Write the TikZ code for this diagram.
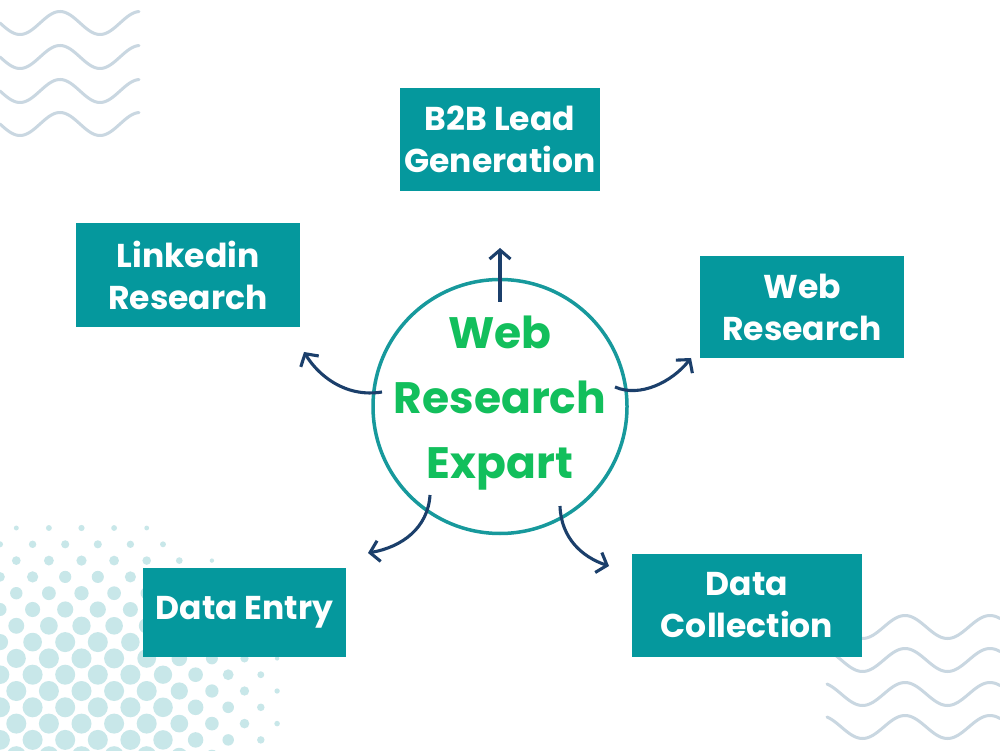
\documentclass[tikz,border=0pt]{standalone}
\usepackage{fontspec}
\setmainfont{Poppins}
\usetikzlibrary{arrows.meta}
\definecolor{boxteal}{HTML}{05989D}
\definecolor{ringteal}{HTML}{17999C}
\definecolor{txtgreen}{HTML}{12BF5C}
\definecolor{navy}{HTML}{1B3F6B}
\definecolor{wavecol}{HTML}{C9D7E1}
\definecolor{dotcol}{HTML}{C8E7E9}
\tikzset{
  box/.style={fill=boxteal, text=white, font=\fontsize{33}{42}\selectfont\bfseries, align=center, inner sep=0pt},
  ring/.style={circle, draw=ringteal, line width=3.5pt, minimum size=254pt, inner sep=0pt},
  conn/.style={draw=navy, line width=3.1pt, -{Straight Barb[length=9pt,width=21pt,line width=3.1pt]}},
  wave/.style={draw=wavecol, line width=3pt, line cap=round},
}
\begin{document}
\begin{tikzpicture}[x=1pt,y=1pt]
\useasboundingbox (0,0) rectangle (1000,750);
\fill[white] (0,0) rectangle (1000,750);
% halftone dots
\foreach \j in {0,...,14} {
  \foreach \i in {0,...,18} {
    \pgfmathsetmacro{\px}{16.3*\i}
    \pgfmathsetmacro{\py}{222-16.3*\j}
    \pgfmathsetmacro{\dd}{veclen(\px-80,\py-30)}
    \pgfmathsetmacro{\rr}{min(10,8.8-0.062*(\dd-100))*mod(\i+\j,2)*(\dd<208)}
    \ifdim \rr pt>0.8pt \fill[dotcol] (\px,\py) circle[radius=\rr]; \fi
  }
}
% waves top-left
\foreach \c in {727,693,659,626} {
  \draw[wave] plot[domain=0:139, samples=70, smooth] (\x, {\c - 11.5*sin(4.5*\x)});
}
% waves bottom-right
\foreach \c in {123,90,56,23} {
  \draw[wave] plot[domain=827:1000, samples=80, smooth] (\x, {\c + 11.5*cos(4.2353*(\x-820))});
}
% boxes
\node[box, minimum width=200pt, minimum height=103pt] (b2b) at (500,610.5) {B2B Lead\\Generation};
\node[box, minimum width=224pt, minimum height=104pt] (lnk) at (188,475) {Linkedin\\Research};
\node[box, minimum width=204pt, minimum height=102pt] (wr) at (802,443) {Web\\Research};
\node[box, minimum width=203pt, minimum height=89pt] (de) at (244.5,137.5) {Data Entry};
\node[box, minimum width=230pt, minimum height=103pt] (dc) at (747,144.5) {Data\\Collection};
% centre
\node[ring] (c) at (500,343.5) {};
\node[text=txtgreen, font=\fontsize{44}{65}\selectfont\bfseries, align=center] (t) at (500,347) {Web\\Research\\Expart};
% connector ends
\coordinate (e1) at (500,502);
\coordinate (e2) at (304,398);
\coordinate (e3) at (691,392);
\coordinate (e4) at (368,197);
\coordinate (e5) at (609,184);
\coordinate (s1) at (500,448);
\coordinate (s2) at (382,358);
\coordinate (s3) at (615,363);
\coordinate (s4) at (430,255);
\coordinate (s5) at (560,244);
\draw[conn] (s1) -- (e1);
\draw[conn] (s2) .. controls (345,352) and (318,375) .. (e2);
\draw[conn] (s3) .. controls (640,352) and (672,368) .. (e3);
\draw[conn] (s4) .. controls (428,222) and (402,203) .. (e4);
\draw[conn] (s5) .. controls (561,212) and (582,193) .. (e5);
\end{tikzpicture}
\end{document}
